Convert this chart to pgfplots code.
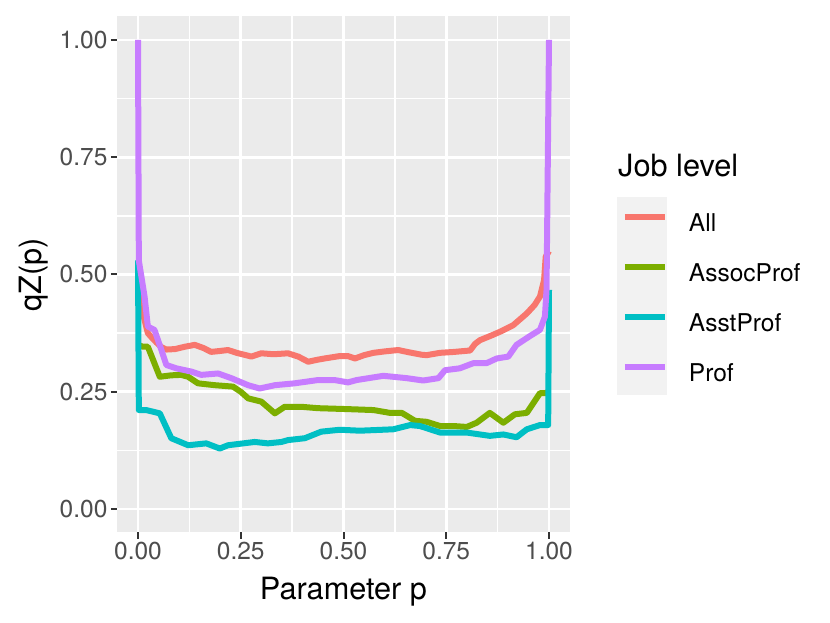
\documentclass[border=0pt]{standalone}
\usepackage{fontspec}
\setmainfont{TeX Gyre Heros}
\usepackage{pgfplots}
\pgfplotsset{compat=1.18}
\definecolor{cAll}{HTML}{F8766D}
\definecolor{cAssoc}{HTML}{7CAE00}
\definecolor{cAsst}{HTML}{00BFC4}
\definecolor{cProf}{HTML}{C77CFF}
\definecolor{panelbg}{HTML}{EBEBEB}
\definecolor{keybg}{HTML}{F2F2F2}
\definecolor{ticklab}{HTML}{4D4D4D}
\definecolor{tickcol}{HTML}{333333}
\begin{document}
\begin{tikzpicture}[x=1pt,y=1pt]
\path[use as bounding box] (0,0) rectangle (830,623);
\fill[keybg] (617,228) rectangle (667,426);
\node[anchor=base west, inner sep=0pt, font=\fontsize{30.7}{36}\selectfont] at (618,446) {Job level};
\node[anchor=base, inner sep=0pt, font=\fontsize{30.7}{36}\selectfont] at (343.5,23) {Parameter p};
\node[anchor=base, rotate=90, inner sep=0pt, font=\fontsize{30.7}{36}\selectfont] at (41,348.5) {qZ(p)};
\begin{axis}[
  at={(117.45pt,90.5pt)}, anchor=south west,
  scale only axis, width=452.1pt, height=516pt,
  xmin=-0.05, xmax=1.05, ymin=-0.05, ymax=1.05,
  axis background/.style={fill=panelbg},
  axis line style={draw=none},
  xtick={0,0.25,0.5,0.75,1}, xticklabels={0.00,0.25,0.50,0.75,1.00},
  ytick={0,0.25,0.5,0.75,1}, yticklabels={0.00,0.25,0.50,0.75,1.00},
  minor xtick={0.125,0.375,0.625,0.875},
  minor ytick={0.125,0.375,0.625,0.875},
  grid=both,
  major grid style={draw=white, line width=2.7pt},
  minor grid style={draw=white, line width=1.35pt},
  tick align=outside, tick pos=left,
  major tick length=6.5pt, minor tick length=0pt,
  tick style={draw=tickcol, line width=2pt},
  tick label style={font=\fontsize{24.5}{29}\selectfont, text=ticklab},
  legend style={at={(axis description cs:1.116,0.618)}, anchor=north west,
    draw=none, fill=none, inner sep=0pt, outer sep=0pt,
    font=\fontsize{24.5}{29}\selectfont, row sep=25pt,
    nodes={inner sep=0pt, text height=18pt, text depth=7pt},
    /tikz/every odd column/.append style={column sep=21pt}},
  legend cell align=left,
  legend image code/.code={\draw[#1] (0pt,9pt) -- (40pt,9pt);},
  every axis plot/.append style={line width=6pt, line join=round},
]
\addplot[cAll] coordinates {
(0,0.52) (0.005,0.46) (0.012,0.417) (0.024,0.375) (0.032,0.367) (0.045,0.355)
(0.057,0.345) (0.069,0.340) (0.09,0.341) (0.114,0.346) (0.138,0.350) (0.16,0.343)
(0.178,0.335) (0.2,0.337) (0.219,0.339) (0.24,0.333) (0.276,0.325) (0.3,0.332)
(0.33,0.330) (0.365,0.332) (0.39,0.325) (0.414,0.314) (0.435,0.318) (0.454,0.321)
(0.49,0.326) (0.511,0.326) (0.528,0.321) (0.55,0.328) (0.573,0.333) (0.6,0.336)
(0.633,0.339) (0.66,0.334) (0.69,0.329) (0.702,0.328) (0.735,0.333) (0.77,0.335)
(0.808,0.338) (0.82,0.352) (0.832,0.360) (0.86,0.370) (0.881,0.378) (0.913,0.392)
(0.946,0.417) (0.965,0.435) (0.978,0.453) (0.988,0.488) (0.992,0.538) (1.0,0.55)
};
\addlegendentry{All}
\addplot[cAssoc] coordinates {
(0,0.35) (0.012,0.346) (0.024,0.346) (0.053,0.282) (0.08,0.285) (0.105,0.286)
(0.122,0.282) (0.146,0.268) (0.187,0.264) (0.231,0.261) (0.25,0.25) (0.268,0.236)
(0.3,0.229) (0.333,0.204) (0.357,0.218) (0.397,0.218) (0.438,0.215) (0.511,0.213)
(0.573,0.211) (0.613,0.205) (0.642,0.205) (0.674,0.188) (0.702,0.186) (0.735,0.177)
(0.767,0.177) (0.8,0.175) (0.824,0.184) (0.856,0.205) (0.889,0.184) (0.917,0.202)
(0.946,0.205) (0.978,0.247) (0.99,0.247) (1.0,0.25)
};
\addlegendentry{AssocProf}
\addplot[cAsst] coordinates {
(0,0.53) (0.002,0.211) (0.02,0.211) (0.053,0.204) (0.081,0.151) (0.122,0.136)
(0.166,0.140) (0.199,0.129) (0.219,0.136) (0.284,0.143) (0.316,0.140) (0.349,0.143)
(0.365,0.147) (0.406,0.151) (0.446,0.165) (0.491,0.169) (0.54,0.167) (0.621,0.170)
(0.662,0.179) (0.686,0.177) (0.735,0.163) (0.8,0.163) (0.856,0.156) (0.889,0.159)
(0.921,0.153) (0.946,0.170) (0.978,0.179) (0.998,0.179) (1.0,0.467)
};
\addlegendentry{AsstProf}
\addplot[cProf] coordinates {
(0,1.0) (0.002,0.53) (0.016,0.453) (0.024,0.389) (0.04,0.382) (0.057,0.339)
(0.069,0.307) (0.093,0.300) (0.13,0.293) (0.154,0.286) (0.195,0.289) (0.227,0.279)
(0.268,0.264) (0.296,0.257) (0.333,0.264) (0.381,0.268) (0.438,0.275) (0.478,0.275)
(0.511,0.270) (0.532,0.275) (0.597,0.284) (0.654,0.279) (0.694,0.274) (0.731,0.279)
(0.747,0.296) (0.783,0.300) (0.816,0.311) (0.848,0.311) (0.873,0.321) (0.901,0.325)
(0.921,0.350) (0.954,0.369) (0.978,0.382) (0.990,0.410) (0.994,0.467) (1.0,1.0)
};
\addlegendentry{Prof}
\end{axis}
\end{tikzpicture}
\end{document}
